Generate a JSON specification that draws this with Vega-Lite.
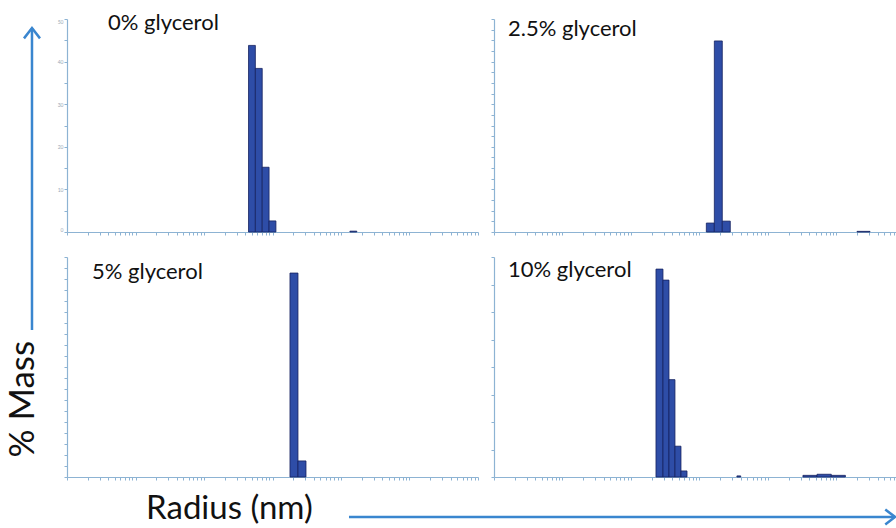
{
  "$schema": "https://vega.github.io/schema/vega-lite/v6.json",
  "background": "white",
  "padding": {"left": 0, "top": 11, "right": 0, "bottom": 0},
  "config": {
    "view": {"stroke": null},
    "font": "Lato",
    "axis": {"grid": false, "labels": false, "title": null, "domainColor": "#8DB3D3", "tickColor": "#8DB3D3", "tickSize": 3, "domainWidth": 1.2, "tickWidth": 1},
    "title": {"font": "Lato", "fontSize": 22, "fontWeight": "normal", "color": "#111111", "anchor": "start", "baseline": "alphabetic", "frame": "group"}
  },
  "datasets": {
    "bars": [
      {"panel": "TL", "r0": 4.467, "r1": 5.623, "mass": 43.8},
      {"panel": "TL", "r0": 5.623, "r1": 7.079, "mass": 38.4},
      {"panel": "TL", "r0": 7.079, "r1": 8.913, "mass": 15.2},
      {"panel": "TL", "r0": 8.913, "r1": 11.22, "mass": 2.6},
      {"panel": "TL", "r0": 135, "r1": 170, "mass": 0.2},
      {"panel": "TR", "r0": 12.59, "r1": 16.48, "mass": 4.2},
      {"panel": "TR", "r0": 16.48, "r1": 21.53, "mass": 89.7},
      {"panel": "TR", "r0": 21.53, "r1": 28.18, "mass": 5.1},
      {"panel": "TR", "r0": 1995, "r1": 3090, "mass": 0.3},
      {"panel": "BL", "r0": 17.99, "r1": 23.55, "mass": 92.7},
      {"panel": "BL", "r0": 23.55, "r1": 30.83, "mass": 7.3},
      {"panel": "BR", "r0": 2.317, "r1": 2.931, "mass": 37.8},
      {"panel": "BR", "r0": 2.931, "r1": 3.589, "mass": 35.8},
      {"panel": "BR", "r0": 3.589, "r1": 4.385, "mass": 17.7},
      {"panel": "BR", "r0": 4.385, "r1": 5.37, "mass": 5.6},
      {"panel": "BR", "r0": 5.37, "r1": 6.577, "mass": 1.1},
      {"panel": "BR", "r0": 35.2, "r1": 40.0, "mass": 0.2},
      {"panel": "BR", "r0": 324, "r1": 520, "mass": 0.3},
      {"panel": "BR", "r0": 520, "r1": 840, "mass": 0.5},
      {"panel": "BR", "r0": 840, "r1": 1350, "mass": 0.3}
    ],
    "leftArrow": [{"x": 0.0357, "y": 0.625, "y2": 0.053}],
    "leftText": [{"x": 0.0262, "y": 0.756, "label": "% Mass"}],
    "bottomArrow": [{"x": 0.3895, "x2": 0.9989, "y": 0.979}],
    "bottomText": [{"x": 0.163, "y": 0.983, "label": "Radius (nm)"}]
  },
  "bounds": "flush",
  "columns": 3,
  "spacing": {"row": 25, "column": 16},
  "concat": [
    {
      "width": 51,
      "height": 213,
      "layer": [
        {
          "data": {"name": "leftArrow"},
          "mark": {"type": "rule", "color": "#3A86CF", "strokeWidth": 2.5},
          "encoding": {
            "x": {"field": "x", "type": "quantitative", "scale": {"domain": [0, 1], "range": [0, 896]}, "axis": null},
            "y": {"field": "y", "type": "quantitative", "scale": {"domain": [0, 1], "range": [-19, 509]}, "axis": null},
            "y2": {"field": "y2"}
          }
        },
        {
          "data": {"name": "leftArrow"},
          "mark": {"type": "point", "shape": "M -1 1.3 L 0 0 L 1 1.3", "size": 256, "filled": false, "color": "#3A86CF", "strokeWidth": 2.5, "opacity": 1},
          "encoding": {
            "x": {"field": "x", "type": "quantitative", "scale": {"domain": [0, 1], "range": [0, 896]}, "axis": null},
            "y": {"field": "y2", "type": "quantitative", "scale": {"domain": [0, 1], "range": [-19, 509]}, "axis": null}
          }
        },
        {
          "data": {"name": "leftText"},
          "mark": {"type": "text", "angle": 270, "fontSize": 35, "align": "center", "baseline": "middle", "color": "#111111", "font": "Lato"},
          "encoding": {
            "x": {"field": "x", "type": "quantitative", "scale": {"domain": [0, 1], "range": [0, 896]}, "axis": null},
            "y": {"field": "y", "type": "quantitative", "scale": {"domain": [0, 1], "range": [-19, 509]}, "axis": null},
            "text": {"field": "label"}
          }
        }
      ]
    },
    {
      "width": 411, "height": 213,
      "data": {"name": "bars"},
      "title": {"text": "0% glycerol", "dx": 41, "offset": -16},
      "transform": [{"filter": "datum.panel === 'TL'"}],
      "mark": {"type": "bar", "color": "#2E4DA7", "stroke": "#15225F", "strokeWidth": 0.8},
      "encoding": {
        "x": {"field": "r0", "type": "quantitative", "scale": {"type": "log", "domain": [0.01, 10000], "nice": false}, "axis": {"tickCount": 60}},
        "x2": {"field": "r1"},
        "y": {"field": "mass", "type": "quantitative", "scale": {"domain": [0, 50], "nice": false},
          "axis": {"values": [0, 5, 10, 15, 20, 25, 30, 35, 40, 45, 50], "labels": true, "labelFontSize": 5, "labelColor": "#9AA8B5", "labelFlush": true, "labelPadding": 1, "labelExpr": "datum.value % 10 === 0 ? datum.label : ''"}},
        "y2": {"datum": 0}
      }
    },
    {
      "width": 402, "height": 213,
      "data": {"name": "bars"},
      "title": {"text": "2.5% glycerol", "dx": 14, "offset": -22},
      "transform": [{"filter": "datum.panel === 'TR'"}],
      "mark": {"type": "bar", "color": "#2E4DA7", "stroke": "#15225F", "strokeWidth": 0.8},
      "encoding": {
        "x": {"field": "r0", "type": "quantitative", "scale": {"type": "log", "domain": [0.01, 7400], "nice": false}, "axis": {"tickCount": 60}},
        "x2": {"field": "r1"},
        "y": {"field": "mass", "type": "quantitative", "scale": {"domain": [0, 100], "nice": false},
          "axis": {"values": [0, 5, 10, 15, 20, 25, 30, 35, 40, 45, 50, 55, 60, 65, 70, 75, 80, 85, 90, 95, 100]}},
        "y2": {"datum": 0}
      }
    },
    {
      "width": 51,
      "height": 220,
      "layer": [
        {
          "data": {"name": "bottomArrow"},
          "mark": {"type": "rule", "color": "#3A86CF", "strokeWidth": 2.5},
          "encoding": {
            "x": {"field": "x", "type": "quantitative", "scale": {"domain": [0, 1], "range": [0, 896]}, "axis": null},
            "x2": {"field": "x2"},
            "y": {"field": "y", "type": "quantitative", "scale": {"domain": [0, 1], "range": [-257, 271]}, "axis": null}
          }
        },
        {
          "data": {"name": "bottomArrow"},
          "mark": {"type": "point", "shape": "M -1.3 -1 L 0 0 L -1.3 1", "size": 225, "filled": false, "color": "#3A86CF", "strokeWidth": 2.5, "opacity": 1},
          "encoding": {
            "x": {"field": "x2", "type": "quantitative", "scale": {"domain": [0, 1], "range": [0, 896]}, "axis": null},
            "y": {"field": "y", "type": "quantitative", "scale": {"domain": [0, 1], "range": [-257, 271]}, "axis": null}
          }
        },
        {
          "data": {"name": "bottomText"},
          "mark": {"type": "text", "fontSize": 33, "align": "left", "baseline": "alphabetic", "color": "#111111", "font": "Lato"},
          "encoding": {
            "x": {"field": "x", "type": "quantitative", "scale": {"domain": [0, 1], "range": [0, 896]}, "axis": null},
            "y": {"field": "y", "type": "quantitative", "scale": {"domain": [0, 1], "range": [-257, 271]}, "axis": null},
            "text": {"field": "label"}
          }
        }
      ]
    },
    {
      "width": 411, "height": 220,
      "data": {"name": "bars"},
      "title": {"text": "5% glycerol", "dx": 25, "offset": -27},
      "transform": [{"filter": "datum.panel === 'BL'"}],
      "mark": {"type": "bar", "color": "#2E4DA7", "stroke": "#15225F", "strokeWidth": 0.8},
      "encoding": {
        "x": {"field": "r0", "type": "quantitative", "scale": {"type": "log", "domain": [0.01, 10000], "nice": false}, "axis": {"tickCount": 60}},
        "x2": {"field": "r1"},
        "y": {"field": "mass", "type": "quantitative", "scale": {"domain": [0, 100], "nice": false},
          "axis": {"values": [0, 5, 10, 15, 20, 25, 30, 35, 40, 45, 50, 55, 60, 65, 70, 75, 80, 85, 90, 95, 100]}},
        "y2": {"datum": 0}
      }
    },
    {
      "width": 402, "height": 220,
      "data": {"name": "bars"},
      "title": {"text": "10% glycerol", "dx": 14, "offset": -25},
      "transform": [{"filter": "datum.panel === 'BR'"}],
      "mark": {"type": "bar", "color": "#2E4DA7", "stroke": "#15225F", "strokeWidth": 0.8},
      "encoding": {
        "x": {"field": "r0", "type": "quantitative", "scale": {"type": "log", "domain": [0.01, 7400], "nice": false}, "axis": {"tickCount": 60}},
        "x2": {"field": "r1"},
        "y": {"field": "mass", "type": "quantitative", "scale": {"domain": [0, 40], "nice": false},
          "axis": {"values": [0, 5, 10, 15, 20, 25, 30, 35, 40]}},
        "y2": {"datum": 0}
      }
    }
  ]
}
